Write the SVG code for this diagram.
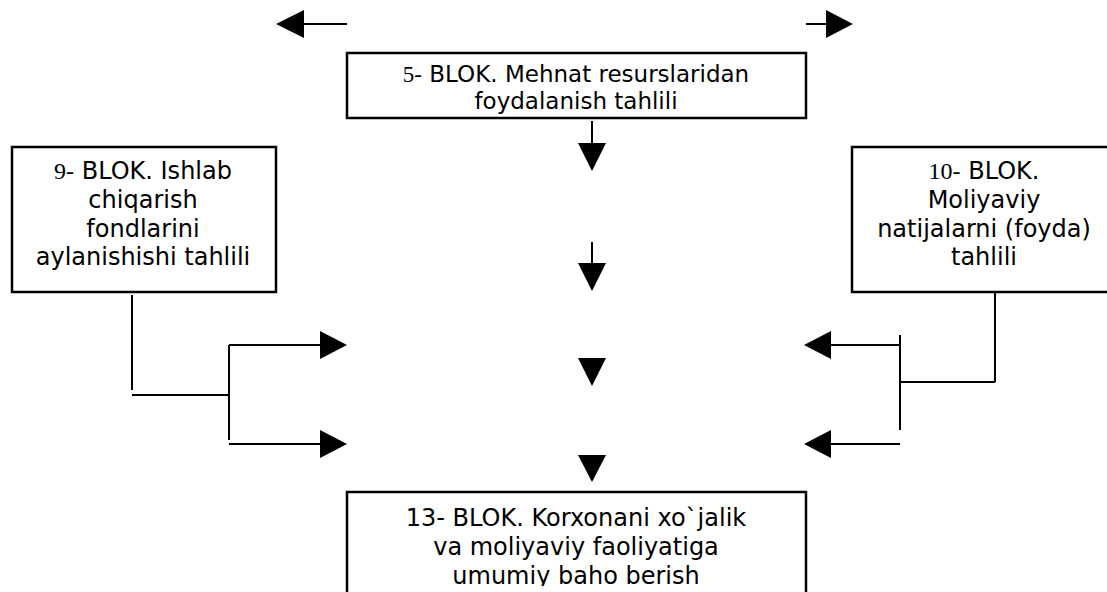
<svg xmlns="http://www.w3.org/2000/svg" width="1107" height="592" viewBox="0 0 1107 592">
<style>
.box{fill:#fff;stroke:#000;stroke-width:2.5}
.t{font-family:"DejaVu Sans",sans-serif;font-size:24px;fill:#000;text-anchor:middle}
.t5{font-size:23px}
.s{font-family:"Liberation Serif",serif}
.ln{stroke:#000;stroke-width:2;fill:none}
.ah{fill:#000}
</style>
<defs>
<clipPath id="c5"><rect x="347" y="53" width="459" height="65"/></clipPath>
<clipPath id="c13"><rect x="347" y="492" width="459" height="94"/></clipPath>
</defs>
<g id="connectors">
<line class="ln" x1="347" y1="24" x2="304" y2="24"/>
<polygon class="ah" points="276,24 304,10 304,38"/>
<line class="ln" x1="806" y1="24" x2="826" y2="24"/>
<polygon class="ah" points="853,24 826,10 826,38"/>
<line class="ln" x1="592" y1="121" x2="592" y2="146"/>
<polygon class="ah" points="578,143 606,143 592,171"/>
<line class="ln" x1="592" y1="242" x2="592" y2="265"/>
<polygon class="ah" points="578,263 606,263 592,291"/>
<polygon class="ah" points="578,358 606,358 592,386"/>
<polygon class="ah" points="578,455 606,455 592,482"/>
<line class="ln" x1="132" y1="295" x2="132" y2="390"/>
<line class="ln" x1="132" y1="395" x2="229" y2="395"/>
<line class="ln" x1="229" y1="345" x2="229" y2="440"/>
<line class="ln" x1="229" y1="345" x2="320" y2="345"/>
<polygon class="ah" points="347,345 320,331 320,359"/>
<line class="ln" x1="229" y1="444" x2="320" y2="444"/>
<polygon class="ah" points="347,444 320,430 320,458"/>
<line class="ln" x1="995" y1="292" x2="995" y2="382"/>
<line class="ln" x1="900" y1="382" x2="995" y2="382"/>
<line class="ln" x1="900" y1="335" x2="900" y2="430"/>
<line class="ln" x1="900" y1="345" x2="831" y2="345"/>
<polygon class="ah" points="804,345 831,331 831,359"/>
<line class="ln" x1="900" y1="444" x2="831" y2="444"/>
<polygon class="ah" points="804,444 831,430 831,458"/>
</g>
<g id="block5">
<rect class="box" x="347" y="53" width="459" height="65"/>
<g clip-path="url(#c5)">
<text class="t t5" x="576" y="82"><tspan class="s">5-</tspan> BLOK. Mehnat resurslaridan</text>
<text class="t t5" x="576" y="109">foydalanish tahlili</text>
</g>
</g>
<g id="block9">
<rect class="box" x="12" y="147" width="264" height="145"/>
<text class="t" x="143" y="179"><tspan class="s">9-</tspan> BLOK. Ishlab</text>
<text class="t" x="143" y="208">chiqarish</text>
<text class="t" x="143" y="237">fondlarini</text>
<text class="t" x="143" y="265">aylanishishi tahlili</text>
</g>
<g id="block10">
<rect class="box" x="852" y="147" width="270" height="145"/>
<text class="t" x="984" y="179"><tspan class="s">10-</tspan> BLOK.</text>
<text class="t" x="984" y="208">Moliyaviy</text>
<text class="t" x="984" y="237">natijalarni (foyda)</text>
<text class="t" x="984" y="265">tahlili</text>
</g>
<g id="block13">
<rect class="box" x="347" y="492" width="459" height="120"/>
<g clip-path="url(#c13)">
<text class="t" x="576" y="526">13- BLOK. Korxonani xo`jalik</text>
<text class="t" x="576" y="555">va moliyaviy faoliyatiga</text>
<text class="t" x="576" y="584">umumiy baho berish</text>
</g>
</g>
</svg>
